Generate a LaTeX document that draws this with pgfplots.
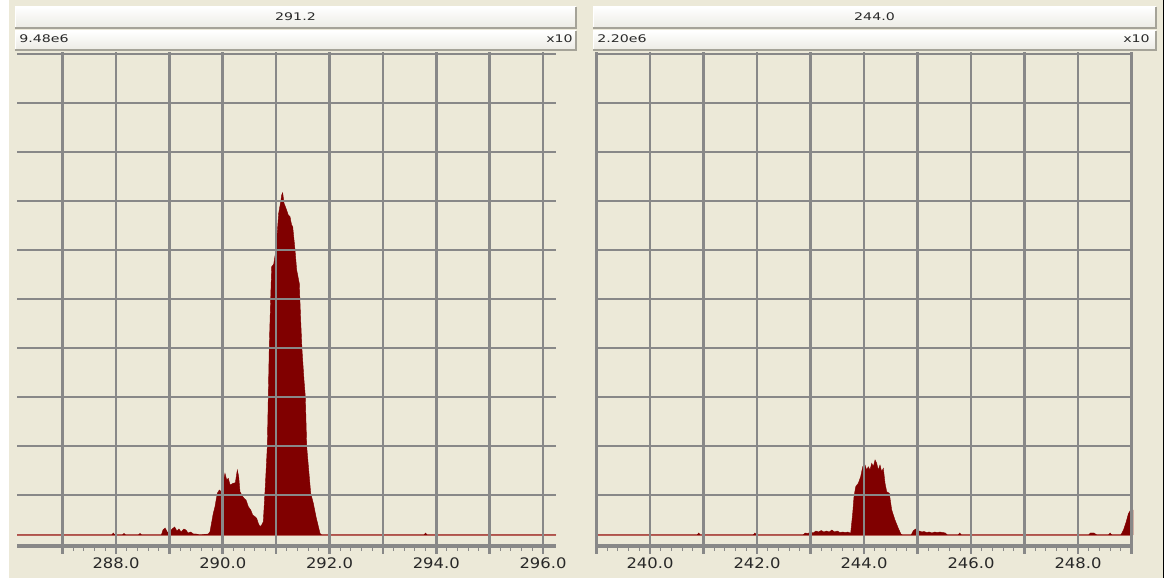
\documentclass[border=0pt]{standalone}
\usepackage{pgfplots}
\pgfplotsset{compat=1.18}
\usepackage{fontspec}
\setmainfont{DejaVu Sans}
\definecolor{bg}{RGB}{236,233,216}
\definecolor{gridc}{RGB}{136,136,136}
\definecolor{peak}{RGB}{128,0,0}
\definecolor{basec}{RGB}{190,110,100}
\definecolor{btnlo}{RGB}{236,235,228}
\definecolor{btnd}{RGB}{165,163,152}
\definecolor{txt}{RGB}{40,40,40}
\pgfplotsset{chrom/.style={
  scale only axis, anchor=south west,
  height=493.5pt,
  ymin=-11, ymax=482.5,
  axis on top, clip=false,
  axis line style={draw=none},
  grid=major,
  major grid style={gridc, line width=2.6pt},
  ytick={40,89,...,481}, yticklabels={},
  y tick style={draw=none},
  tick align=outside, xtick pos=left,
  tick style={gridc},
  major tick style={line width=2.6pt},
  minor tick style={line width=1pt},
  major tick length=8pt, minor tick length=5pt,
  minor x tick num=4,
  xticklabel style={font=\fontsize{14.5}{16}\selectfont, xscale=1.13, text=txt},
}}
\newcommand{\button}[4]{%
  \fill[top color=white, bottom color=btnlo] (#1pt,#2pt) rectangle (#3pt,#4pt);
  \draw[white, line width=1pt] (#1pt,#2pt) -- (#1pt,#4pt) -- (#3pt,#4pt);
  \draw[btnd, line width=1.3pt] (#1pt,#2pt) -- (#3pt,#2pt) -- (#3pt,#4pt);
}
\begin{document}
\begin{tikzpicture}
\useasboundingbox (0pt,0pt) rectangle (1170pt,578pt);
\fill[bg] (0pt,0pt) rectangle (1170pt,578pt);
\fill[white] (0pt,0pt) rectangle (9pt,578pt);
\fill[white] (1164pt,0pt) rectangle (1170pt,578pt);
\draw[black, line width=1.2pt] (1163.5pt,0pt) -- (1163.5pt,578pt);
% headers
\button{15}{550}{576}{571}
\button{15}{528}{576}{547}
\button{593}{550}{1156}{571}
\button{593}{528}{1156}{547}
\node[font=\fontsize{10.5}{12}\selectfont, xscale=1.35, text=txt] at (295.5pt,561.5pt) {291.2};
\node[font=\fontsize{10.5}{12}\selectfont, xscale=1.35, text=txt, anchor=west, inner sep=0pt] at (19pt,539pt) {9.48e6};
\node[font=\fontsize{10.5}{12}\selectfont, xscale=1.35, text=txt, anchor=east, inner sep=0pt] at (573pt,539pt) {x10};
\node[font=\fontsize{10.5}{12}\selectfont, xscale=1.35, text=txt] at (874.5pt,561.5pt) {244.0};
\node[font=\fontsize{10.5}{12}\selectfont, xscale=1.35, text=txt, anchor=west, inner sep=0pt] at (597pt,539pt) {2.20e6};
\node[font=\fontsize{10.5}{12}\selectfont, xscale=1.35, text=txt, anchor=east, inner sep=0pt] at (1150pt,539pt) {x10};

% left panel
\begin{axis}[chrom, at={(17pt,32pt)}, width=539pt,
  xmin=286.145, xmax=296.244,
  xtick={287,...,296},
  xticklabels={,288.0,,290.0,,292.0,,294.0,,296.0}]
\draw[gridc, line width=4pt] (rel axis cs:0,0) -- (rel axis cs:1,0);
\addplot[draw=basec, line width=1.2pt] coordinates {(286.145,0) (296.244,0)};
\addplot[fill=peak, draw=peak, line width=0.4pt] coordinates {
(286.145,0)
(287.92,0) (287.95,2) (287.98,0)
(288.12,0) (288.15,1.5) (288.18,0)
(288.42,0) (288.45,1.5) (288.48,0)
(288.85,0) (288.88,5) (288.92,7) (288.96,3) (289.0,2) (289.05,6) (289.1,8) (289.14,4) (289.18,6) (289.22,3) (289.27,6) (289.31,5) (289.35,2) (289.4,3) (289.45,1) (289.5,1) (289.57,0)
(289.729,1) (289.761,3.3) (289.823,21.7) (289.855,28.3) (289.898,41.7) (289.936,45) (289.961,43.3) (289.992,48.3) (290.042,61.7) (290.074,55) (290.105,56.7) (290.136,50) (290.198,51.7) (290.236,52.3) (290.273,65) (290.299,58.3) (290.323,43.3) (290.355,40) (290.398,36.7) (290.436,35) (290.479,28.3) (290.524,25) (290.561,20) (290.604,18.3) (290.636,16.7) (290.666,11.7) (290.698,8.3) (290.730,10) (290.760,13.3)
(290.797,48.3) (290.835,88.3) (290.872,188.3) (290.899,238.3) (290.917,268.3) (290.954,270.7) (290.998,285) (291.048,321.7) (291.086,333.3) (291.104,340) (291.123,342.3) (291.148,331.7) (291.185,326.7) (291.228,320) (291.260,318.3) (291.290,310) (291.311,308.3) (291.354,285) (291.385,265) (291.434,251.7) (291.460,215) (291.485,185) (291.522,155) (291.547,138.3) (291.573,88.3) (291.648,41.7) (291.697,31.7) (291.747,18.3) (291.822,1.7) (291.854,0)
(293.77,0) (293.8,2) (293.83,0)
(296.244,0)
} \closedcycle;
\end{axis}

% right panel
\begin{axis}[chrom, at={(595pt,32pt)}, width=538pt,
  xmin=238.972, xmax=249.028,
  xtick={239,...,249},
  xticklabels={,240.0,,242.0,,244.0,,246.0,,248.0,}]
\draw[gridc, line width=4pt] (rel axis cs:0,0) -- (rel axis cs:1,0);
\addplot[draw=basec, line width=1.2pt] coordinates {(238.972,0) (249.028,0)};
\addplot[fill=peak, draw=peak, line width=0.4pt] coordinates {
(238.972,0)
(240.88,0) (240.91,2) (240.94,0)
(241.93,0) (241.96,2) (241.99,0)
(242.86,0) (242.9,2) (242.95,1.5) (243.0,3) (243.05,2) (243.1,4) (243.15,3) (243.2,4.5) (243.25,3) (243.3,4) (243.35,3) (243.4,5) (243.45,3) (243.5,4) (243.55,2.5) (243.6,3) (243.65,2.5) (243.7,3) (243.751,1.7)
(243.789,21.7) (243.813,38.3) (243.845,48.3) (243.893,51.7) (243.938,58.3) (243.976,68.3) (244.019,70) (244.050,65) (244.081,68.3) (244.112,65) (244.144,71.7) (244.174,68.3) (244.206,75) (244.237,71.7) (244.267,65) (244.299,70) (244.330,63.3) (244.361,66.7) (244.393,51.7) (244.424,43.3) (244.473,41.7) (244.518,25) (244.579,15) (244.641,6.7) (244.692,0.7) (244.72,0)
(244.88,0) (244.92,4) (244.96,6) (245.0,3) (245.04,4) (245.08,3) (245.12,3.5) (245.17,2.5) (245.22,3) (245.27,2) (245.32,3) (245.37,2.5) (245.42,3) (245.47,2.5) (245.52,2) (245.56,0)
(245.76,0) (245.79,2) (245.82,0)
(248.2,0) (248.23,2) (248.3,2) (248.35,0)
(248.57,0) (248.6,2) (248.63,0)
(248.8,0) (248.85,5) (248.9,13) (248.94,21) (248.97,24) (249.0,25) (249.028,25)
} \closedcycle;
\end{axis}
\end{tikzpicture}
\end{document}
